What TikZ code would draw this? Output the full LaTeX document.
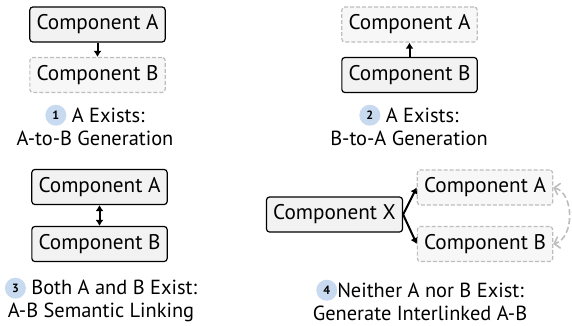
\documentclass[tikz,border=0pt]{standalone}
\usepackage{fontspec}
\setmainfont{PT Sans}
\usepackage{tikz}
\usetikzlibrary{arrows.meta}
\definecolor{boxfill}{HTML}{F2F2F2}
\definecolor{ghostfill}{HTML}{F7F7F7}
\definecolor{ghostline}{HTML}{BDBDBD}
\definecolor{numblue}{HTML}{C8DAF0}
\newcommand{\stepno}[1]{\tikz[baseline=-3.4pt]\node[circle,fill=numblue,inner sep=0pt,minimum size=10.5pt,font=\bfseries\fontsize{6}{6}\selectfont] (s) at (0,0) {#1};}

\begin{document}
\begin{tikzpicture}[x=0.5pt,y=-0.5pt,
    comp/.style={draw=black,fill=boxfill,rounded corners=1.5pt,line width=0.6pt,minimum width=62.5pt,minimum height=17.5pt,font=\fontsize{10.6}{12}\selectfont},
    ghost/.style={comp,draw=ghostline,fill=ghostfill,dash pattern=on 2pt off 1pt},
    caption/.style={align=center,font=\fontsize{10.2}{11.5}\selectfont},
    link/.style={line width=1pt,-{Latex[length=3pt,width=4pt]}},
    ghostlink/.style={draw=ghostline,line width=0.8pt,dash pattern=on 3pt off 1.5pt,{Straight Barb[length=2.5pt,width=6pt]}-{Straight Barb[length=2.5pt,width=6pt]}}]

\useasboundingbox (0,0) rectangle (572,326);

% 1: A exists
\node at (97.5,24.5) [comp] (A1) {Component A};
\node at (97.5,75) [ghost] (B1) {Component B};
\node at (95,125) [caption] (c1) {\stepno{1} A Exists:\\A-to-B Generation};
\draw[link] (A1) -- (B1);

% 2: A exists
\node at (409.5,24.5) [ghost] (A2) {Component A};
\node at (409.5,75) [comp] (B2) {Component B};
\node at (409,125) [caption] (c2) {\stepno{2} A Exists:\\B-to-A Generation};
\draw[link] (B2) -- (A2);

% 3: both exist
\node at (99.5,187) [comp] (A3) {Component A};
\node at (99.5,244) [comp] (B3) {Component B};
\node at (101,300) [caption] (c3) {\stepno{3} Both A and B Exist:\\A-B Semantic Linking};
\draw[link,{Latex[length=3pt,width=4pt]}-{Latex[length=3pt,width=4pt]}] (A3) -- (B3);

% 4: neither exists
\node at (334.5,214.5) [comp] (X4) {Component X};
\node at (485,187.5) [ghost] (A4) {Component A};
\node at (485,244) [ghost] (B4) {Component B};
\node at (420,300) [caption] (c4) {\stepno{4}Neither A nor B Exist:\\Generate Interlinked A-B};
\draw[link] (X4.east) -- (A4.west);
\draw[link] (X4.east) -- (B4.west);
\draw[ghostlink] (A4.east) to[bend left=75] (B4.east);

\end{tikzpicture}
\end{document}
